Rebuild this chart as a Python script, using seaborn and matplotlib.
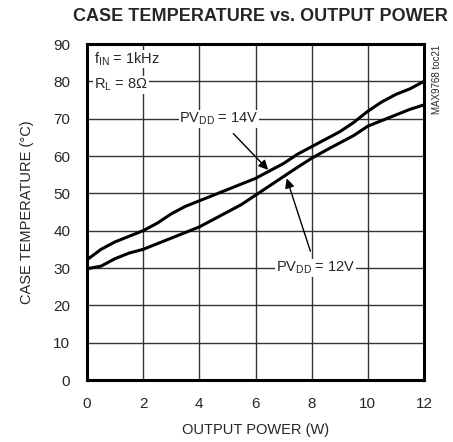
import matplotlib
matplotlib.use("Agg")
import matplotlib.pyplot as plt
import seaborn as sns
import pandas as pd

power_w = [0, 0.5, 1, 1.5, 2, 2.5, 3, 3.5, 4, 4.5, 5, 5.5, 6, 6.5, 7, 7.5, 8, 8.5, 9, 9.5, 10, 10.5, 11, 11.5, 12]
temp_14v = [32.2, 35, 37, 38.5, 40, 42, 44.5, 46.5, 48, 49.5, 51, 52.5, 54, 56, 58, 60.5, 62.5, 64.5, 66.5, 69, 72, 74.5, 76.5, 78, 80]
temp_12v = [29.8, 30.5, 32.5, 34, 35, 36.5, 38, 39.5, 41, 43, 45, 47, 49.5, 52, 54.5, 57, 59.4, 61.5, 63.5, 65.5, 68, 69.5, 71, 72.5, 73.7]
x_ticks = [0, 2, 4, 6, 8, 10, 12]
y_ticks = [0, 10, 20, 30, 40, 50, 60, 70, 80, 90]

sns.set_style("white")
plt.rcParams['font.family'] = ['Liberation Sans', 'DejaVu Sans']
plt.rcParams['mathtext.fontset'] = 'custom'
plt.rcParams['mathtext.rm'] = 'Liberation Sans'
plt.rcParams['mathtext.it'] = 'Liberation Sans'

df = pd.DataFrame({
    "power": power_w * 2,
    "temp": temp_14v + temp_12v,
    "series": ["14V"] * len(power_w) + ["12V"] * len(power_w),
})

fig = plt.figure(figsize=(4.53, 4.42), dpi=100)
ax = fig.add_axes([87/453, 1 - 380/442, (424-87)/453, (380-44)/442])
sns.lineplot(data=df, x="power", y="temp", units="series", estimator=None,
             color="black", lw=2.2, ax=ax, legend=False)

ax.set_xlim(0, 12)
ax.set_ylim(0, 90)
ax.set_xticks(x_ticks)
ax.set_yticks(y_ticks)
ax.grid(True, color="#333333", lw=1.0)
ax.set_axisbelow(True)
for s in ax.spines.values():
    s.set_linewidth(2.2)
    s.set_color("black")
ax.tick_params(length=0, labelsize=11, pad=12)
ax.set_xlabel("OUTPUT POWER (W)", fontsize=10.5, labelpad=9)
ax.set_ylabel("CASE TEMPERATURE (°C)", fontsize=10.5, labelpad=14)
fig.text(260/453, 1 - 8/442, "CASE TEMPERATURE vs. OUTPUT POWER", ha="center", va="top",
         fontsize=13, fontweight="bold")

bbox = dict(facecolor="white", edgecolor="none", pad=0.5)
ax.text(0.25, 86, r"f$_{\rm IN}$ = 1kHz", fontsize=10.5, va="center", ha="left", bbox=bbox)
ax.text(0.25, 79, r"R$_{\rm L}$ = 8Ω", fontsize=10.5, va="center", ha="left", bbox=bbox)

ax.annotate(r"PV$_{\rm DD}$ = 14V", xy=(6.45, 56.3), xytext=(4.7, 70),
            ha="center", va="center", fontsize=10.5, bbox=bbox,
            arrowprops=dict(arrowstyle="-|>", color="black", lw=1.0,
                            mutation_scale=14, shrinkA=6, shrinkB=0))
ax.annotate(r"PV$_{\rm DD}$ = 12V", xy=(7.11, 54), xytext=(8.15, 30),
            ha="center", va="center", fontsize=10.5, bbox=bbox,
            arrowprops=dict(arrowstyle="-|>", color="black", lw=1.0,
                            mutation_scale=14, shrinkA=6, shrinkB=0))

fig.text(437/453, 1 - 45/442, "MAX9768 toc21", rotation=90, ha="center", va="top", fontsize=7)

fig.savefig("out.png", dpi=100)
